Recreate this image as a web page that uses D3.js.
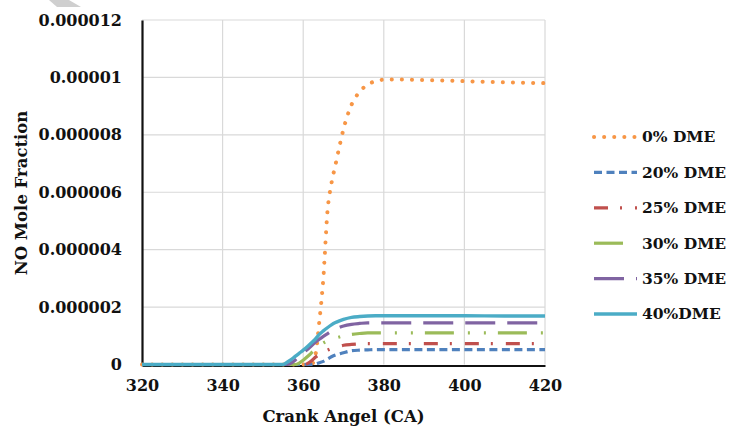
<!DOCTYPE html>
<html>
<head>
<meta charset="utf-8">
<script src="https://cdn.jsdelivr.net/npm/d3@7"></script>
<style>
  html, body { margin: 0; padding: 0; background: #fff; }
  svg { display: block; }
  text { font-family: "DejaVu Serif", "Liberation Serif", serif; font-weight: bold; fill: #111; }
</style>
</head>
<body>
<svg id="chart" width="729" height="430"></svg>
<script>
// Crank angle (deg) sample points shared by every series
const crankAngle = [320, 340, 350, 354, 355, 356, 357, 358, 359, 360, 361, 362, 363, 364, 365,
                    366, 367, 368, 369, 370, 372, 374, 376, 378, 380, 384, 390, 400, 410, 420];

// NO mole fraction, in units of 1e-6
const dme0  = [0, 0, 0, 0, 0, 0, 0, 0, 0, 0, 0, 0, 0.3, 1.5, 3.0,
               5.3, 6.3, 6.95, 7.6, 8.2, 9.05, 9.5, 9.75, 9.87, 9.92, 9.93, 9.91, 9.87, 9.83, 9.8];
const dme20 = [0, 0, 0, 0, 0, 0, 0, 0, 0, 0, 0, 0, 0.02, 0.06, 0.11,
               0.19, 0.27, 0.33, 0.37, 0.41, 0.48, 0.50, 0.51, 0.52, 0.52, 0.52, 0.52, 0.52, 0.52, 0.52];
const dme25 = [0, 0, 0, 0, 0, 0, 0, 0, 0, 0, 0.03, 0.12, 0.25, 0.35, 0.43,
               0.50, 0.56, 0.61, 0.64, 0.67, 0.70, 0.72, 0.73, 0.73, 0.73, 0.73, 0.73, 0.73, 0.73, 0.73];
const dme30 = [0, 0, 0, 0, 0, 0, 0, 0, 0.05, 0.15, 0.27, 0.40, 0.55, 0.66, 0.75,
               0.82, 0.88, 0.92, 0.96, 1.00, 1.05, 1.08, 1.10, 1.10, 1.10, 1.10, 1.10, 1.10, 1.10, 1.10];
const dme35 = [0, 0, 0, 0, 0, 0, 0.05, 0.15, 0.27, 0.40, 0.52, 0.64, 0.77, 0.88, 0.98,
               1.07, 1.16, 1.23, 1.29, 1.34, 1.40, 1.43, 1.45, 1.45, 1.45, 1.45, 1.45, 1.45, 1.45, 1.45];
const dme40 = [0, 0, 0, 0, 0, 0.08, 0.17, 0.28, 0.39, 0.50, 0.62, 0.75, 0.88, 1.05, 1.17,
               1.28, 1.38, 1.46, 1.52, 1.57, 1.64, 1.67, 1.69, 1.70, 1.70, 1.70, 1.70, 1.70, 1.69, 1.69];

const seriesNames = ["0% DME", "20% DME", "25% DME", "30% DME", "35% DME", "40%DME"];
const seriesValues = [dme0, dme20, dme25, dme30, dme35, dme40];

const xTicks = [320, 340, 360, 380, 400, 420];
const yTicks = [0, 2e-6, 4e-6, 6e-6, 8e-6, 1e-5, 1.2e-5];
const yTickLabels = ["0", "0.000002", "0.000004", "0.000006", "0.000008", "0.00001", "0.000012"];

// Line styles per series
const styles = [
  { color: "#F79646", width: 4,   dash: "0.1 10",          cap: "round" },
  { color: "#4F81BD", width: 3.2, dash: "8 4.5",           cap: "butt" },
  { color: "#C0504D", width: 3.2, dash: "14 12 2 13",      cap: "butt" },
  { color: "#9BBB59", width: 3.2, dash: "29 14 2 14 2 12", cap: "butt" },
  { color: "#8064A2", width: 3.2, dash: "30 12",           cap: "butt" },
  { color: "#4BACC6", width: 3.4, dash: null,              cap: "butt" }
];

const svg = d3.select("#chart");
const x = d3.scaleLinear().domain([320, 420]).range([142, 545]);
const y = d3.scaleLinear().domain([0, 1.2e-5]).range([364.5, 20]);

// Gridlines
const grid = svg.append("g");
grid.selectAll("line.h").data(yTicks.slice(1)).join("line")
  .attr("x1", x(320)).attr("x2", x(420))
  .attr("y1", d => y(d)).attr("y2", d => y(d))
  .attr("stroke", "#d9d9d9").attr("stroke-width", 1.2);
grid.selectAll("line.v").data(xTicks.slice(1)).join("line")
  .attr("x1", d => x(d)).attr("x2", d => x(d))
  .attr("y1", y(1.2e-5)).attr("y2", y(0))
  .attr("stroke", "#d9d9d9").attr("stroke-width", 1.2);

// Axes
const xAxis = d3.axisBottom(x).tickValues(xTicks).tickSize(0).tickPadding(14).tickFormat(d3.format("d"));
const gx = svg.append("g").attr("transform", `translate(0,${y(0) + 1})`).call(xAxis);
gx.select(".domain").attr("stroke", "#111").attr("stroke-width", 2.2);
gx.selectAll("text").style("font-size", "16px");

const yAxis = d3.axisLeft(y).tickValues(yTicks).tickSize(0).tickPadding(20)
  .tickFormat((d, i) => yTickLabels[i]);
const gy = svg.append("g").attr("transform", `translate(${x(320)},0)`).call(yAxis);
gy.select(".domain").attr("stroke", "#111").attr("stroke-width", 2.2);
gy.selectAll("text").style("font-size", "16px");

// Series lines
const line = d3.line()
  .x((d, i) => x(crankAngle[i]))
  .y(d => y(d * 1e-6))
  .curve(d3.curveMonotoneX);

svg.append("g").selectAll("path").data(seriesValues).join("path")
  .attr("d", d => line(d))
  .attr("fill", "none")
  .attr("stroke", (d, i) => styles[i].color)
  .attr("stroke-width", (d, i) => styles[i].width)
  .attr("stroke-dasharray", (d, i) => styles[i].dash)
  .attr("stroke-linecap", (d, i) => styles[i].cap);

// Axis titles
svg.append("text").attr("x", x(370)).attr("y", 422)
  .attr("text-anchor", "middle").style("font-size", "16.5px").text("Crank Angel (CA)");
svg.append("text").attr("transform", "translate(27,193) rotate(-90)")
  .attr("text-anchor", "middle").style("font-size", "16.5px").text("NO Mole Fraction");

// Legend
const legend = svg.append("g").selectAll("g").data(seriesNames).join("g")
  .attr("transform", (d, i) => `translate(594,${137 + i * 35.4})`);
legend.append("line")
  .attr("x1", 0).attr("x2", 43).attr("y1", 0).attr("y2", 0)
  .attr("stroke", (d, i) => styles[i].color)
  .attr("stroke-width", (d, i) => styles[i].width)
  .attr("stroke-dasharray", (d, i) => styles[i].dash)
  .attr("stroke-linecap", (d, i) => styles[i].cap);
legend.append("text").attr("x", 48).attr("y", 0).attr("dy", "0.35em")
  .style("font-size", "15.5px").text(d => d);

// Grey mark along the top edge
svg.append("polygon")
  .attr("points", "49,0 69,0 81,7 57,7")
  .attr("fill", "#cfcfcf");
</script>
</body>
</html>
